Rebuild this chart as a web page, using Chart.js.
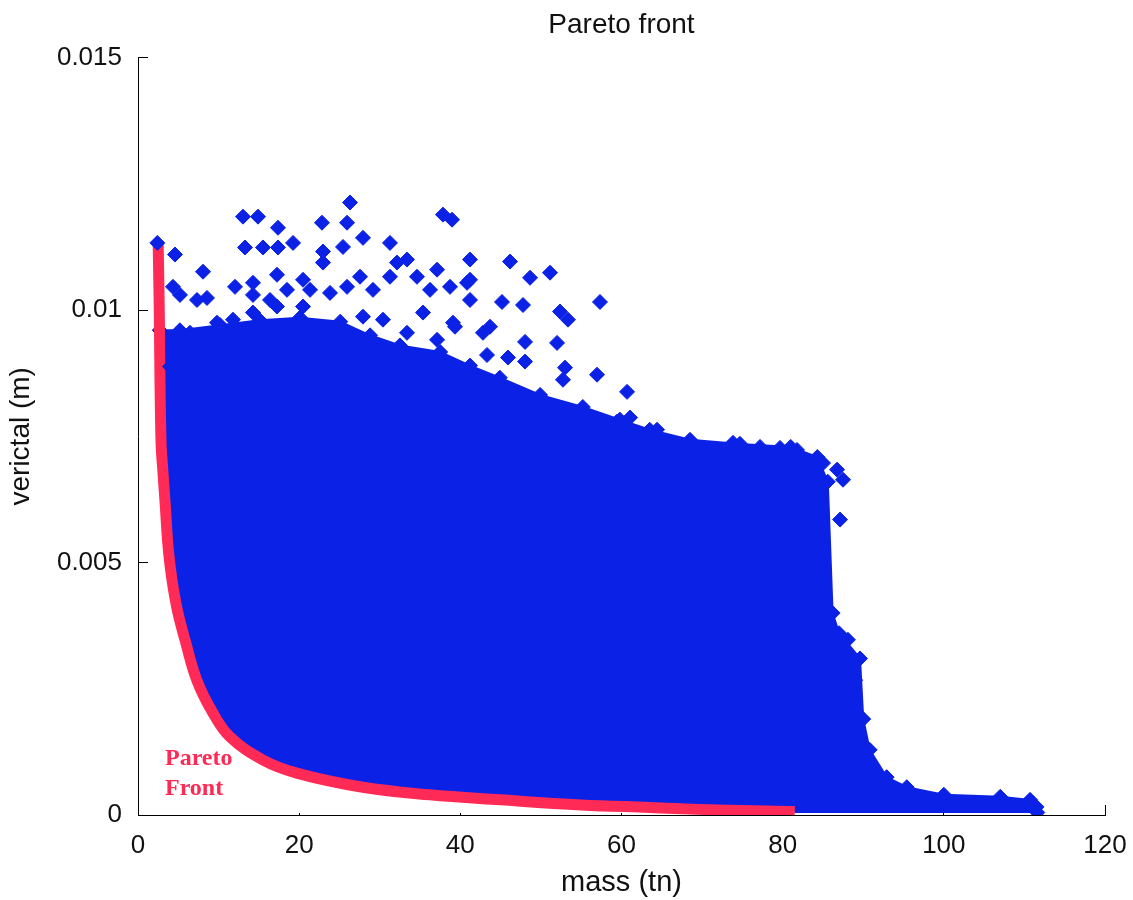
<!DOCTYPE html>
<html>
<head>
<meta charset="utf-8">
<title>Pareto front</title>
<script src="https://cdn.jsdelivr.net/npm/chart.js@4.4.0/dist/chart.umd.min.js"></script>
<style>
  body { margin: 0; background: #fff; }
  #wrap { width: 1133px; height: 900px; }
</style>
</head>
<body>
<div id="wrap"><canvas id="pareto"></canvas></div>
<script>
// red pareto front line (mass in tn, vertical in m)
var frontMass = [2.5, 2.62, 2.85, 3.10, 3.40, 3.66, 3.97, 4.41, 4.96, 5.83,
                 7.3, 9.3, 11.4, 15.5, 19.7, 27.9, 36.2, 45, 55, 63.5, 72, 81.5];
var frontVert = [0.01133, 0.0102, 0.00743, 0.00678, 0.0061, 0.00545, 0.00495, 0.00446, 0.0040, 0.00347,
                 0.00267, 0.00202, 0.00155, 0.00109, 0.00083, 0.00055, 0.0004, 0.0003, 0.0002, 0.00015, 0.0001, 0.00007];

// upper edge of the solid blue cloud
var cloudMass = [2.7, 5.2, 10.2, 15.1, 20.1, 25.1, 28.8, 32.5,
                 37.5, 41.2, 44.9, 49.9, 55.2, 59.8, 63.5, 68.5,
                 74.7, 81.0, 84.3, 85.6, 86.2, 87.0, 89.6, 90.0,
                 90.8, 92.9, 95.4, 100, 107, 110.7, 111.5, 111.6];
var cloudVert = [0.0096, 0.0096, 0.0097, 0.0098, 0.00985, 0.00977, 0.0095, 0.0093,
                 0.00917, 0.0089, 0.00866, 0.00832, 0.00808, 0.00783, 0.00763, 0.00743,
                 0.00735, 0.00729, 0.00709, 0.0066, 0.0040, 0.0036, 0.0031, 0.0019,
                 0.00129, 0.00075, 0.00055, 0.0004, 0.00036, 0.0003, 0.00016, 0.00005];

// loose diamonds above the cloud
var looseMass = [2.4, 13.03, 14.89, 13.28, 15.51, 17.37, 17.37, 19.24,
                 22.83, 22.96, 26.31, 25.94, 25.44, 27.92, 31.27, 37.85,
                 38.97, 4.59, 8.07, 12.04, 14.27, 17.25, 20.48, 22.96,
                 27.55, 32.14, 33.38, 37.11, 41.2, 4.34, 5.21, 7.32,
                 8.56, 9.8, 14.27, 16.38, 18.49, 21.35, 23.83, 25.94,
                 29.16, 31.27, 34.62, 36.24, 38.72, 40.83, 41.2, 39.09,
                 4.34, 3.97, 6.45, 8.56, 11.79, 14.27, 17.25, 20.48,
                 27.92, 30.4, 33.38, 35.37, 37.11, 46.17, 48.65, 51.13,
                 41.2, 45.17, 47.78, 52.37, 53.36, 57.33, 39.34, 43.68,
                 42.81, 48.03, 52.0, 43.31, 45.92, 48.03, 52.99, 56.96,
                 60.69, 52.74, 59.44, 61.06, 64.41, 73.84, 77.19, 79.67,
                 81.78, 85.01, 86.75, 87.49, 87.12, 88.1, 88.6, 89.0];
var looseVert = [0.01133, 0.01185, 0.01185, 0.01124, 0.01124, 0.01163, 0.01124, 0.01133,
                 0.01173, 0.01116, 0.01213, 0.01173, 0.01125, 0.01143, 0.01133, 0.01189,
                 0.01179, 0.0111, 0.01076, 0.01046, 0.01054, 0.0107, 0.0106, 0.01094,
                 0.01066, 0.01094, 0.011, 0.0108, 0.011, 0.01046, 0.0103, 0.0102,
                 0.01024, 0.00975, 0.0103, 0.0102, 0.0104, 0.0104, 0.01034, 0.01046,
                 0.0104, 0.01066, 0.01066, 0.0104, 0.01046, 0.01054, 0.0102, 0.00975,
                 0.00927, 0.00888, 0.00955, 0.00908, 0.00981, 0.00995, 0.01007, 0.01007,
                 0.00987, 0.00981, 0.00955, 0.00995, 0.00941, 0.01096, 0.01064, 0.01074,
                 0.0106, 0.01016, 0.0101, 0.00997, 0.00981, 0.01016, 0.00967, 0.00967,
                 0.00955, 0.00937, 0.00935, 0.00911, 0.00906, 0.00898, 0.00886, 0.00872,
                 0.00838, 0.00862, 0.00779, 0.00787, 0.00763, 0.00737, 0.00729, 0.00727,
                 0.00723, 0.00697, 0.00684, 0.00664, 0.00585, 0.00347, 0.00307, 0.00267];

var massTicks = [0, 20, 40, 60, 80, 100, 120];
var vertTicks = [0, 0.005, 0.01, 0.015];

var BLUE = '#0b22e6';
var RED = '#ff2a55';
var FONT = '"Liberation Sans", Arial, sans-serif';

function pairs(xs, ys) {
  var out = [];
  for (var i = 0; i < xs.length; i++) out.push({x: xs[i], y: ys[i]});
  return out;
}

// "Pareto Front" note next to the curve
var frontNote = {
  id: 'frontNote',
  afterDatasetsDraw: function(chart) {
    var ctx = chart.ctx;
    var sx = chart.scales.x, sy = chart.scales.y;
    ctx.save();
    ctx.fillStyle = RED;
    ctx.font = 'bold 24px "Liberation Serif", "Times New Roman", serif';
    ctx.textAlign = 'left';
    ctx.textBaseline = 'alphabetic';
    ctx.fillText('Pareto', sx.getPixelForValue(3.35), sy.getPixelForValue(0.00099));
    ctx.fillText('Front', sx.getPixelForValue(3.35), sy.getPixelForValue(0.0004));
    ctx.restore();
  }
};

window.onload = function() {
  var ctx = document.getElementById('pareto').getContext('2d');
  window.myChart = new Chart(ctx, {
    type: 'line',
    data: {
      datasets: [{
        label: 'loose',
        data: pairs(looseMass, looseVert),
        showLine: false,
        pointStyle: 'rectRot',
        pointRadius: 7.5,
        pointBackgroundColor: BLUE,
        pointBorderColor: BLUE,
        pointBorderWidth: 1,
        order: 1
      }, {
        label: 'front',
        data: pairs(frontMass, frontVert),
        borderColor: RED,
        borderWidth: 11,
        borderCapStyle: 'butt',
        backgroundColor: '#ffffff',
        fill: {value: 0.00004},
        tension: 0.4,
        pointRadius: 0,
        order: 2
      }, {
        label: 'cloud',
        data: pairs(cloudMass, cloudVert),
        borderColor: BLUE,
        borderWidth: 2,
        backgroundColor: BLUE,
        fill: {value: 0.00004},
        tension: 0,
        pointStyle: 'rectRot',
        pointRadius: 7.5,
        pointBackgroundColor: BLUE,
        pointBorderColor: BLUE,
        pointBorderWidth: 1,
        order: 3
      }]
    },
    options: {
      responsive: true,
      maintainAspectRatio: false,
      animation: false,
      events: [],
      layout: { padding: { left: 0, right: 28, top: 0, bottom: 0 } },
      plugins: {
        legend: { display: false },
        tooltip: { enabled: false },
        title: {
          display: true,
          text: 'Pareto front',
          fullSize: false,
          color: '#111',
          font: { size: 28, weight: 'normal', family: FONT },
          padding: { top: 8, bottom: 16 }
        }
      },
      scales: {
        x: {
          type: 'linear',
          min: 0,
          max: 120,
          z: 1,
          afterBuildTicks: function(s) { s.ticks = massTicks.map(function(v) { return {value: v}; }); },
          afterFit: function(s) { s.height = 85; s.paddingLeft = 0; s.paddingRight = 0; },
          grid: { drawOnChartArea: false, drawTicks: true, tickLength: -10, color: '#000', lineWidth: 1 },
          border: { color: '#000', width: 1 },
          ticks: { padding: 25, color: '#111', maxRotation: 0, autoSkip: false, font: { size: 26, family: FONT } },
          title: { display: true, text: 'mass (tn)', color: '#111', font: { size: 29, family: FONT }, padding: { top: 0, bottom: 0 } }
        },
        y: {
          type: 'linear',
          min: 0,
          max: 0.015,
          afterBuildTicks: function(s) { s.ticks = vertTicks.map(function(v) { return {value: v}; }); },
          afterFit: function(s) { s.width = 138; },
          grid: { drawOnChartArea: false, drawTicks: true, tickLength: -10, color: '#000', lineWidth: 1 },
          border: { color: '#000', width: 1 },
          ticks: {
            padding: 26,
            color: '#111',
            font: { size: 26, family: FONT },
            callback: function(v) { return String(+Number(v).toFixed(3)); }
          },
          title: { display: true, text: 'verictal (m)', color: '#111', font: { size: 28, family: FONT }, padding: { top: 4, bottom: 0 } }
        }
      }
    },
    plugins: [frontNote]
  });
};
</script>
</body>
</html>
